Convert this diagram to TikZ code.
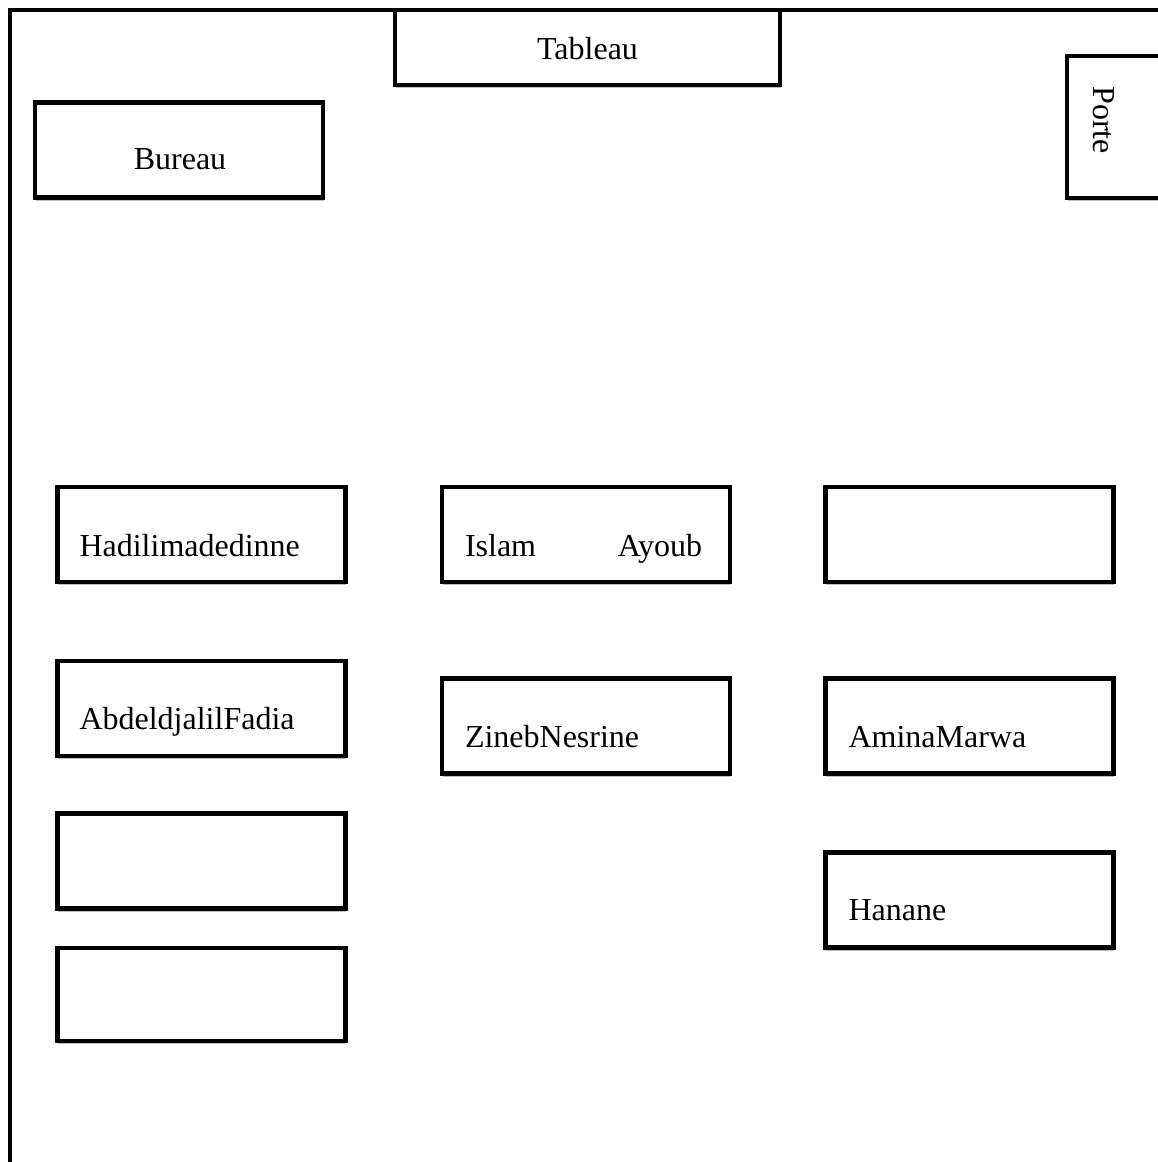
\documentclass[tikz,border=0pt]{standalone}
\usepackage{fontspec}
\setmainfont{Liberation Serif}
\usetikzlibrary{calc,shadows}

\begin{document}
\begin{tikzpicture}[x=0.5pt,y=-0.5pt,line width=2.1pt]
  \tikzstyle{desk}=[draw,fill=white,rectangle,minimum width=144pt,minimum height=47.5pt,
    drop shadow={shadow xshift=0.4pt,shadow yshift=-1.6pt,fill=black!25,opacity=1}]
  \tikzstyle{pupil}=[anchor=base west,inner sep=0pt,font=\fontsize{16}{19}\selectfont]

  \useasboundingbox (0,0) rectangle (1157,1162);

  % walls
  \draw (10,1170) -- (10,10) -- (1170,10);

  \node[desk,minimum width=192.5pt,minimum height=37.5pt] (T) at (587.5,47.5) {};
  \node[desk] (B) at (179,150) {};
  \node[desk,minimum width=55pt,minimum height=71pt] (P) at (1122,127) {};

  \node[desk]          (H)  at (201.5,534.5) {};
  \node[desk]          (I)  at (586,534.5) {};
  \node[desk]          (E1) at (969.5,534.5) {};
  \node[desk]          (A)  at (201.5,708.5) {};
  \node[desk]          (Z)  at (586,726) {};
  \node[desk]          (M)  at (969.5,726) {};
  \node[desk]          (E2) at (201.5,861) {};
  \node[desk]          (N)  at (969.5,900) {};
  \node[desk,minimum height=46.5pt] (E3) at (201.5,994.5) {};

  \node[pupil,anchor=base] (tT) at ($(T.south)+(0,-28)$) {Tableau};
  \node[pupil,anchor=base] (tB) at ($(B.south)+(1,-30)$) {Bureau};
  \node[pupil,anchor=base,rotate=-90] (tP) at (1093,120) {Porte};

  \node[pupil] (tH) at ($(H.south west)+(22,-28)$) {Hadilimadedinne};
  \node[pupil,text width=118.5pt] (tI) at ($(I.south west)+(23,-28)$) {Islam\hfill Ayoub};
  \node[pupil] (tA) at ($(A.south west)+(22,-29)$) {AbdeldjalilFadia};
  \node[pupil] (tZ) at ($(Z.south west)+(23,-28)$) {ZinebNesrine};
  \node[pupil] (tM) at ($(M.south west)+(23,-28)$) {AminaMarwa};
  \node[pupil] (tN) at ($(N.south west)+(23,-29)$) {Hanane};
\end{tikzpicture}
\end{document}
